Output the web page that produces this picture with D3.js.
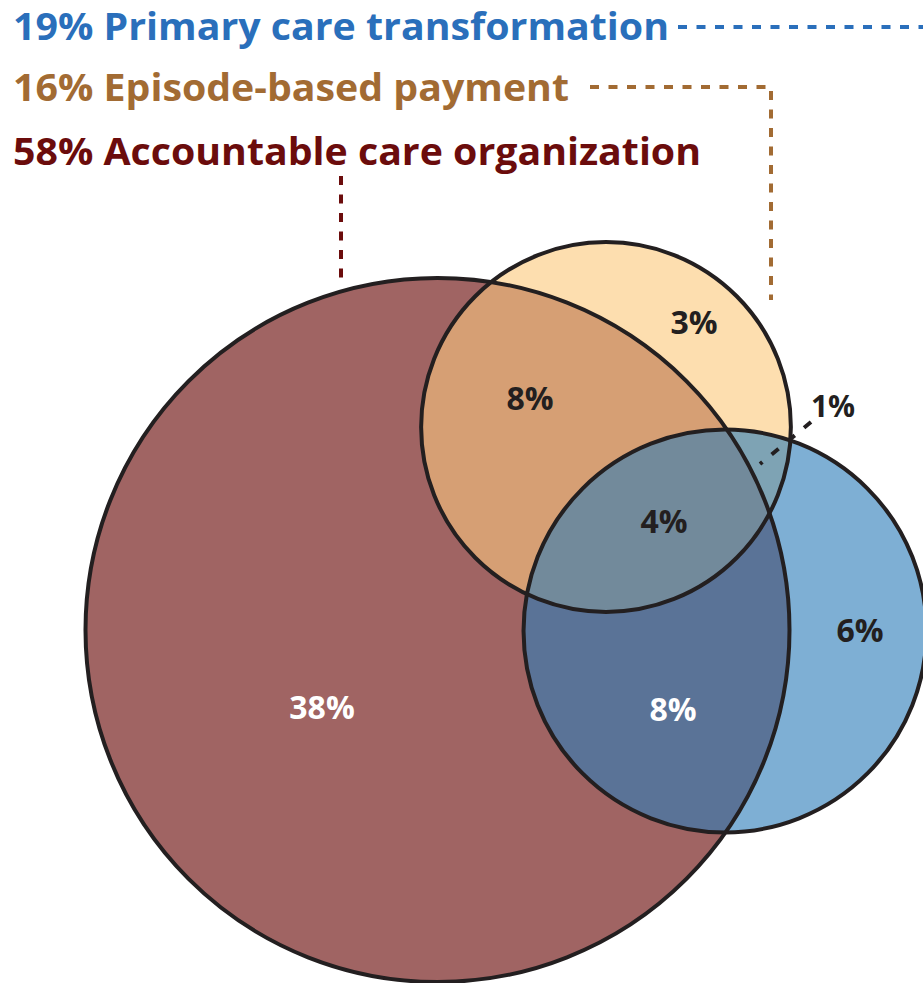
<!DOCTYPE html>
<html><head><meta charset="utf-8">
<script src="https://cdn.jsdelivr.net/npm/d3@7"></script>
<style>html,body{margin:0;padding:0;background:#fff;}svg{display:block;}</style>
</head><body>
<svg id="chart" width="923" height="983"></svg>
<script>
// ---- data ----
const setNames = ["Accountable care organization", "Episode-based payment", "Primary care transformation"];
const setPct = [58, 16, 19];
const regionKeys = ["A", "B", "C", "AB", "AC", "BC", "ABC"];
const regionPct = [38, 3, 6, 8, 8, 1, 4];

// ---- layout / style ----
const W = 923, H = 983;
const svg = d3.select("#chart");
const rScale = d3.scaleSqrt().domain([0, 58]).range([0, 352]);
const centers = [[437.5, 630], [606, 427], [725, 631]];
const baseFill = ["#a06463", "#fddeaf", "#7eafd4"];
const fills = {AB: "#d69f74", AC: "#5a7397", BC: "#7ea3b4", ABC: "#728a9b"};
const labelColor = ["#6b0c0c", "#a26b33", "#2a6fbb"];
const circles = setPct.map((p, i) => ({cx: centers[i][0], cy: centers[i][1], r: rScale(p)}));

const defs = svg.append("defs");
circles.forEach((c, i) => {
  defs.append("clipPath").attr("id", "clip" + i)
    .append("circle").attr("cx", c.cx).attr("cy", c.cy).attr("r", c.r);
});

const g = svg.append("g");
g.selectAll("circle.base").data(circles).join("circle")
  .attr("class", "base").attr("cx", d => d.cx).attr("cy", d => d.cy).attr("r", d => d.r)
  .attr("fill", (d, i) => baseFill[i]);

function region(clips, target, color) {
  let parent = g;
  clips.forEach(ci => { parent = parent.append("g").attr("clip-path", `url(#clip${ci})`); });
  const c = circles[target];
  parent.append("circle").attr("cx", c.cx).attr("cy", c.cy).attr("r", c.r).attr("fill", color);
}
region([1], 2, fills.BC);
region([0], 1, fills.AB);
region([0], 2, fills.AC);
region([0, 1], 2, fills.ABC);

g.selectAll("circle.outline").data(circles).join("circle")
  .attr("class", "outline").attr("cx", d => d.cx).attr("cy", d => d.cy).attr("r", d => d.r)
  .attr("fill", "none").attr("stroke", "#231f20").attr("stroke-width", 4);

// ---- titles ----
const titleY = [165, 100.5, 39.5];
const titleW = [688, 556, 656];
setNames.forEach((n, i) => {
  svg.append("text").attr("x", 13).attr("y", titleY[i])
    .attr("font-family", "'Open Sans', sans-serif").attr("font-weight", 700)
    .attr("font-size", 37).attr("fill", labelColor[i])
    .attr("textLength", titleW[i]).attr("lengthAdjust", "spacingAndGlyphs")
    .text(`${setPct[i]}% ${n}`);
});

// leader lines
const leaders = [
  {pts: [[341, 176], [341, 278]], c: labelColor[0]},
  {pts: [[590, 87], [771, 87], [771, 300]], c: labelColor[1]},
  {pts: [[678, 27], [930, 27]], c: labelColor[2]}
];
leaders.forEach(l => {
  svg.append("path").attr("d", d3.line()(l.pts)).attr("fill", "none")
    .attr("stroke", l.c).attr("stroke-width", 4).attr("stroke-dasharray", "9 9.5");
});
svg.append("path").attr("d", d3.line()([[811, 422], [760, 464]]))
  .attr("stroke", "#231f20").attr("stroke-width", 4).attr("stroke-dasharray", "9 12");

// ---- region labels ----
const regionPos = {A: [322, 707], B: [694, 322], C: [860, 630], AB: [530, 398], AC: [673, 709], BC: [833, 406], ABC: [664, 521]};
const regionColor = {A: "#fff", AC: "#fff"};
regionKeys.forEach((k, i) => {
  const p = regionPos[k];
  svg.append("text").attr("x", p[0]).attr("y", p[1]).attr("dy", "0.36em")
    .attr("text-anchor", "middle")
    .attr("font-family", "'Open Sans', sans-serif").attr("font-weight", 700)
    .attr("font-size", k === "BC" ? 30 : 32).attr("fill", regionColor[k] || "#231f20")
    .text(regionPct[i] + "%");
});
</script>
</body></html>
